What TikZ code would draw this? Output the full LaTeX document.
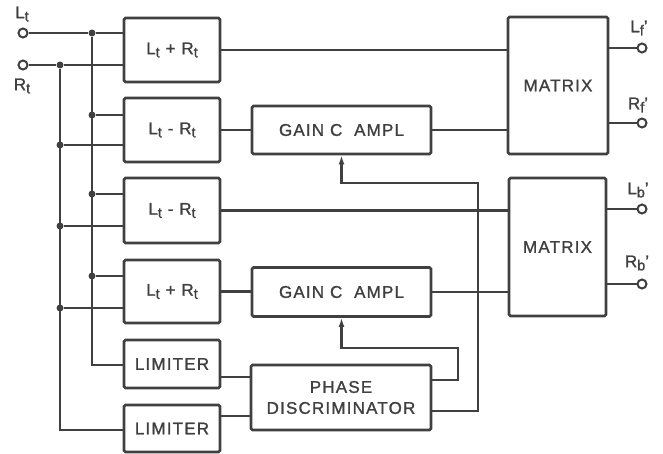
\documentclass[tikz,border=0pt]{standalone}
\usepackage{fontspec}
\setmainfont{Liberation Sans}[LetterSpace=7,FakeBold=1.2]
\usetikzlibrary{positioning,arrows.meta}

\newcommand{\lowidx}[1]{\raisebox{-0.35ex}{\fontsize{14.5}{14}\selectfont #1}}

\tikzset{
  block/.style={draw,line width=2.8pt,rounded corners=1.5pt,minimum width=96pt,
    inner sep=0pt,align=center,font=\fontsize{17}{21}\selectfont},
  wire/.style={line width=2.3pt},
  term/.style={circle,draw,line width=2pt,fill=white,minimum size=9pt,inner sep=0pt},
  junc/.style={circle,fill,minimum size=7pt,inner sep=0pt},
  lab/.style={inner sep=0pt,font=\fontsize{17}{21}\selectfont},
  ctl/.style={wire,-{Latex[length=9pt,width=6pt]}},
}

\begin{document}
\begin{tikzpicture}[x=1pt,y=-1pt,color=black!75]
    \useasboundingbox (0,0) rectangle (663,454);

    % input blocks
    \node[block,minimum height=64pt] (sumA) at (172,50) {L\lowidx{t} + R\lowidx{t}};
    \node[block,minimum height=64pt] (difA) at (172,130) {L\lowidx{t} - R\lowidx{t}};
    \node[block,minimum height=65pt] (difB) at (172,210.5) {L\lowidx{t} - R\lowidx{t}};
    \node[block,minimum height=63pt] (sumB) at (172,291.5) {L\lowidx{t} + R\lowidx{t}};
    \node[block,minimum height=48pt] (limA) at (172,364) {LIMITER};
    \node[block,minimum height=47pt] (limB) at (172,428.5) {LIMITER};

    % middle column
    \node[block,minimum width=179pt,minimum height=48pt] (gainA) at (341.5,130) {GAIN C\ \ AMPL};
    \node[block,minimum width=179pt,minimum height=49pt] (gainB) at (341.5,292) {GAIN C\ \ AMPL};
    \node[block,minimum width=180pt,minimum height=65pt] (phase) at (341,397.5) {PHASE\\DISCRIMINATOR};

    % matrices
    \node[block,minimum width=100pt,minimum height=137pt] (matA) at (558,85.5) {MATRIX};
    \node[block,minimum width=97pt,minimum height=138pt] (matB) at (557.5,247) {MATRIX};

    % terminals
    \node[term] (inL) at (23,33) {};
    \node[term] (inR) at (23,65) {};
    \node[term] (outLf) at (642,48) {};
    \node[term] (outRf) at (642,123) {};
    \node[term] (outLb) at (642,209) {};
    \node[term] (outRb) at (642,284) {};

    \node[lab] (lblLt) at (22,14) {L\lowidx{t}};
    \node[lab] (lblRt) at (22,86) {R\lowidx{t}};
    \node[lab] (lblLf) at (639,28) {L\lowidx{f}'};
    \node[lab] (lblRf) at (638,105) {R\lowidx{f}'};
    \node[lab] (lblLb) at (638,190) {L\lowidx{b}'};
    \node[lab] (lblRb) at (637,263) {R\lowidx{b}'};

    % bus junctions
    \node[junc] (jL1) at (92,33) {};
    \node[junc] (jL2) at (92,115) {};
    \node[junc] (jL3) at (92,194) {};
    \node[junc] (jL4) at (92,276) {};
    \node[junc] (jR1) at (60,65) {};
    \node[junc] (jR2) at (60,145) {};
    \node[junc] (jR3) at (60,226) {};
    \node[junc] (jR4) at (60,308) {};
    \coordinate (cL) at (92,365);
    \coordinate (cR) at (60,430);

    % input buses
    \draw[wire] (inL) -- (jL1) -- (jL1 -| sumA.west);
    \draw[wire] (inR) -- (jR1) -- (jR1 -| sumA.west);
    \draw[wire] (jL1) -- (cL) -- (cL -| limA.west);
    \draw[wire] (jR1) -- (cR) -- (cR -| limB.west);
    \draw[wire] (jL2) -- (jL2 -| difA.west);
    \draw[wire] (jL3) -- (jL3 -| difB.west);
    \draw[wire] (jL4) -- (jL4 -| sumB.west);
    \draw[wire] (jR2) -- (jR2 -| difA.west);
    \draw[wire] (jR3) -- (jR3 -| difB.west);
    \draw[wire] (jR4) -- (jR4 -| sumB.west);

    % signal paths
    \draw[wire] (sumA.east) -- (sumA.east -| matA.west);
    \draw[wire] (difA.east) -- (gainA.west);
    \draw[wire] (gainA.east) -- (gainA.east -| matA.west);
    \draw[wire] (difB.east) -- (difB.east -| matB.west);
    \draw[wire] (sumB.east) -- (sumB.east -| gainB.west);
    \draw[wire] (gainB.east) -- (gainB.east -| matB.west);
    \draw[wire] ([yshift=-13pt]limA.east) -- ([yshift=-13pt]limA.east -| phase.west);
    \draw[wire] ([yshift=12.5pt]limB.east) -- ([yshift=12.5pt]limB.east -| phase.west);

    % gain control
    \coordinate (fbA) at (478,183);
    \coordinate (fbB) at (458,348);
    \draw[ctl] ([yshift=-13.5pt]phase.east) -| (fbA) -| (gainA.south);
    \draw[ctl] ([yshift=17.5pt]phase.east) -| (fbB) -| (gainB.south);

    % outputs
    \draw[wire] (matA.east |- outLf) -- (outLf);
    \draw[wire] (matA.east |- outRf) -- (outRf);
    \draw[wire] (matB.east |- outLb) -- (outLb);
    \draw[wire] (matB.east |- outRb) -- (outRb);
\end{tikzpicture}
\end{document}
